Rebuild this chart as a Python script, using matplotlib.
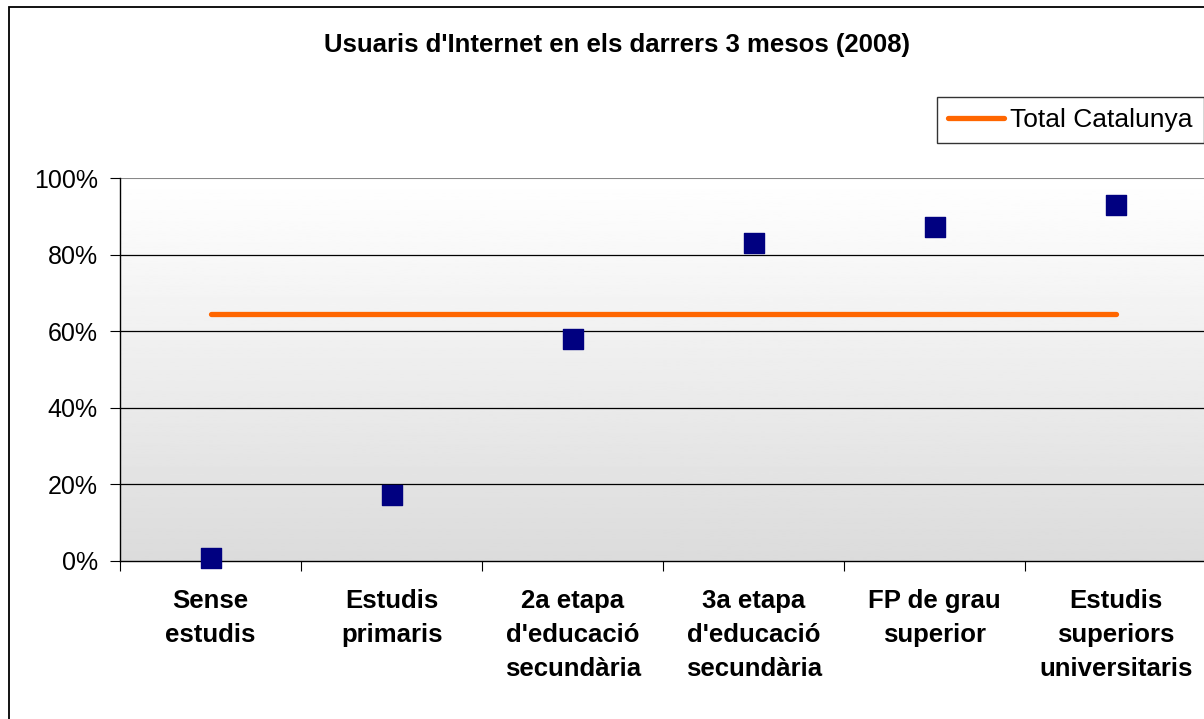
import matplotlib.pyplot as plt
import numpy as np
from matplotlib.patches import Rectangle
from matplotlib.ticker import PercentFormatter

plt.rcParams['font.family'] = ['Liberation Sans', 'DejaVu Sans']

categories = ['Sense\nestudis', 'Estudis\nprimaris', "2a etapa\nd'educació\nsecundària",
              "3a etapa\nd'educació\nsecundària", 'FP de grau\nsuperior',
              'Estudis\nsuperiors\nuniversitaris']
usuaris = [0.8, 17.2, 58.0, 83.0, 87.2, 93.0]
total_catalunya = 64.5

fig = plt.figure(figsize=(12.04, 7.19), dpi=100)
ax = fig.add_axes([120 / 1204, 1 - 561 / 719, 1 - 120 / 1204 + 0.002, (561 - 178) / 719])

# outer chart frame
fig.patches.append(Rectangle((9 / 1204, -0.05), 1.1, 1 - 7 / 719 + 0.05,
                             transform=fig.transFigure, fill=False,
                             edgecolor='black', linewidth=1.3))

# vertical gradient background
grad = np.linspace(0.86, 1.0, 256).reshape(-1, 1)
ax.imshow(grad, cmap='gray', vmin=0, vmax=1, aspect='auto', origin='lower',
          extent=[0, 1, 0, 1], transform=ax.transAxes, zorder=0)

x = np.arange(len(categories))
ax.plot([x[0], x[-1]], [total_catalunya] * 2, color='#FF6600', linewidth=3.8,
        solid_capstyle='round', label='Total Catalunya', zorder=3)
ax.scatter(x, usuaris, marker='s', s=200, color='#000080', zorder=4, clip_on=False)

ax.set_xlim(-0.5, len(categories) - 0.5)
ax.set_ylim(0, 100)
ax.set_yticks(range(0, 101, 20))
ax.yaxis.set_major_formatter(PercentFormatter(decimals=0))
for yv in range(20, 100, 20):
    ax.axhline(yv, color='black', linewidth=0.9, zorder=1)
ax.axhline(100, color='#888888', linewidth=1.5, zorder=1)

ax.set_xticks(np.arange(-0.5, len(categories) - 0.4, 1))
ax.set_xticklabels([])
ax.set_xticks(x, minor=True)
ax.set_xticklabels(categories, minor=True, fontsize=18.5, fontweight='bold',
                   linespacing=1.53)
ax.tick_params(axis='x', which='minor', length=0, pad=20)
ax.tick_params(axis='x', which='major', length=7, color='black')
ax.tick_params(axis='y', length=7, labelsize=18, pad=9)

for side in ['top', 'right']:
    ax.spines[side].set_visible(False)
ax.spines['left'].set_linewidth(1.0)
ax.spines['bottom'].set_linewidth(1.0)

fig.text(617 / 1204, 1 - 45 / 719, "Usuaris d'Internet en els darrers 3 mesos (2008)",
         ha='center', va='center', fontsize=18.5, fontweight='bold')

leg = fig.legend(loc='upper right', bbox_to_anchor=(1.0, 1 - 97 / 719),
                 fontsize=19, frameon=True, fancybox=False, handlelength=2.1,
                 handletextpad=0.25, borderpad=0.42, borderaxespad=0)
leg.get_frame().set_edgecolor('black')
leg.get_frame().set_linewidth(1.0)

fig.savefig('out.png', dpi=100)
